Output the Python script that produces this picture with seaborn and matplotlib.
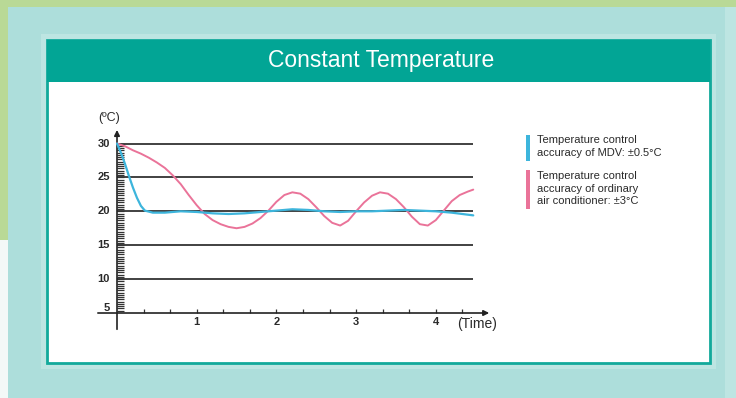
import numpy as np
import pandas as pd
import matplotlib
matplotlib.use("Agg")
import matplotlib.pyplot as plt
from matplotlib.patches import Rectangle
import seaborn as sns

# ---- data -------------------------------------------------------------
title = "Constant Temperature"

mdv_time = [0.0, 0.05, 0.1, 0.15, 0.2, 0.25, 0.3, 0.35, 0.45, 0.6, 0.8, 1.0,
            1.2, 1.4, 1.6, 1.8, 2.0, 2.2, 2.4, 2.6, 2.8, 3.0, 3.2, 3.4, 3.6,
            3.8, 4.0, 4.2, 4.47]
mdv_temp = [30.0, 28.6, 27.0, 25.2, 23.5, 22.0, 20.8, 20.1, 19.8, 19.8, 20.0,
            19.9, 19.7, 19.6, 19.7, 19.9, 20.1, 20.3, 20.2, 20.0, 19.9, 20.0,
            20.0, 20.1, 20.2, 20.1, 20.0, 19.8, 19.4]

ac_time = [0.0, 0.1, 0.2, 0.3, 0.4, 0.5, 0.6, 0.7, 0.8, 0.9, 1.0, 1.1, 1.2,
           1.3, 1.4, 1.5, 1.6, 1.7, 1.8, 1.9, 2.0, 2.1, 2.2, 2.3, 2.4, 2.5,
           2.6, 2.7, 2.8, 2.9, 3.0, 3.1, 3.2, 3.3, 3.4, 3.5, 3.6, 3.7, 3.8,
           3.9, 4.0, 4.1, 4.2, 4.3, 4.4, 4.47]
ac_temp = [30.0, 29.6, 29.0, 28.5, 27.9, 27.2, 26.4, 25.3, 24.0, 22.4, 20.9,
           19.6, 18.7, 18.1, 17.7, 17.5, 17.7, 18.2, 19.0, 20.1, 21.4, 22.4,
           22.8, 22.6, 21.8, 20.6, 19.3, 18.3, 17.9, 18.6, 20.0, 21.3, 22.3,
           22.8, 22.6, 21.8, 20.6, 19.2, 18.1, 17.9, 18.7, 20.1, 21.5, 22.4,
           22.9, 23.2]

y_ticks = [5, 10, 15, 20, 25, 30]
grid_levels = [10, 15, 20, 25, 30]
x_ticks = [1, 2, 3, 4]

legend_labels = ["Temperature control\naccuracy of MDV: \u00b10.5\u00b0C",
                 "Temperature control\naccuracy of ordinary\nair conditioner: \u00b13\u00b0C"]

# ---- style ------------------------------------------------------------
sns.set_theme(style="white")
plt.rcParams["font.family"] = ["Liberation Sans", "DejaVu Sans"]

BLUE = "#3db5dc"
PINK = "#ea7399"
TEAL = "#02a595"
INK = "#2a2a2a"

W, H = 736, 398
fig = plt.figure(figsize=(W / 100, H / 100), dpi=100)

# background canvas in pixel coordinates
bg = fig.add_axes([0, 0, 1, 1], zorder=0)
bg.set_xlim(0, W)
bg.set_ylim(H, 0)
bg.axis("off")

bg.add_patch(Rectangle((0, 0), W, H, color="#addedb", lw=0))
bg.add_patch(Rectangle((725, 0), W - 725, H, color="#bde5e2", lw=0))
bg.add_patch(Rectangle((0, 0), W, 7, color="#b9d996", lw=0))
bg.add_patch(Rectangle((0, 0), 8, 240, color="#b9d996", lw=0))
bg.add_patch(Rectangle((0, 240), 8, H - 240, color="#f3f8f7", lw=0))
bg.add_patch(Rectangle((41, 34), 675, 335, color="#c9ebe8", lw=0, alpha=0.6))
# white card with teal frame and header
bg.add_patch(Rectangle((47, 40), 663, 323, facecolor="white",
                       edgecolor="#12a99b", lw=2))
bg.add_patch(Rectangle((47, 40), 663, 42, color=TEAL, lw=0))
bg.text(381, 61, title, color="white", fontsize=16.5,
        ha="center", va="center")

# legend entries
bg.add_patch(Rectangle((526, 135), 4, 26, color=BLUE, lw=0))
bg.add_patch(Rectangle((526, 170), 4, 39, color=PINK, lw=0))
bg.text(537, 135, legend_labels[0], fontsize=8, color=INK,
        ha="left", va="top", linespacing=1.32)
bg.text(537, 171, legend_labels[1], fontsize=8, color=INK,
        ha="left", va="top", linespacing=1.32)

# ---- chart axes ---------------------------------------------------------
L, R, T, B = 90, 500, 100, 340
ax = fig.add_axes([L / W, (H - B) / H, (R - L) / W, (B - T) / H], zorder=2)
ax.patch.set_alpha(0)

# horizontal reference lines
ax.hlines(grid_levels, 0, 4.47, color="#333333", lw=1.3, zorder=1)

# axes with arrows
ax.annotate("", xy=(4.67, 5), xytext=(-0.24, 5),
            arrowprops=dict(arrowstyle="-|>", color="#222222", lw=1.2,
                            mutation_scale=8, shrinkA=0, shrinkB=0))
ax.annotate("", xy=(0, 32.0), xytext=(0, 2.6),
            arrowprops=dict(arrowstyle="-|>", color="#222222", lw=1.2,
                            mutation_scale=8, shrinkA=0, shrinkB=0))

# dense comb of minor ticks on the temperature axis
comb = np.arange(5 + 1 / 3, 30, 1 / 3)
ax.hlines(comb, 0, 0.085, color="#333333", lw=0.9)
# minor ticks on the time axis
xt = np.arange(1, 14) / 3
ax.vlines(xt, 5, 5.55, color="#333333", lw=0.9)

# the two temperature curves
df_mdv = pd.DataFrame({"t": mdv_time, "v": mdv_temp})
df_ac = pd.DataFrame({"t": ac_time, "v": ac_temp})
sns.lineplot(data=df_ac, x="t", y="v", ax=ax, color=PINK, lw=1.4,
             sort=False, zorder=3)
sns.lineplot(data=df_mdv, x="t", y="v", ax=ax, color=BLUE, lw=1.6,
             sort=False, zorder=4)
ax.set_xlim(-0.3388, 4.8055)
ax.set_ylim(1.018, 36.416)
ax.axis("off")

# tick labels
for v in y_ticks:
    ax.text(-0.09, v + (0.75 if v == 5 else 0), str(v), ha="right",
            va="center", fontsize=8, fontweight="bold", color=INK)
for t in x_ticks:
    ax.text(t, 3.65, str(t), ha="center", va="center", fontsize=8,
            fontweight="bold", color=INK)
ax.text(4.27, 3.4, "(Time)", ha="left", va="center", fontsize=10, color=INK)
ax.text(-0.1, 33.7, "(\u00baC)", ha="center", va="center", fontsize=9,
        color=INK)

fig.savefig("out.png", dpi=100)
